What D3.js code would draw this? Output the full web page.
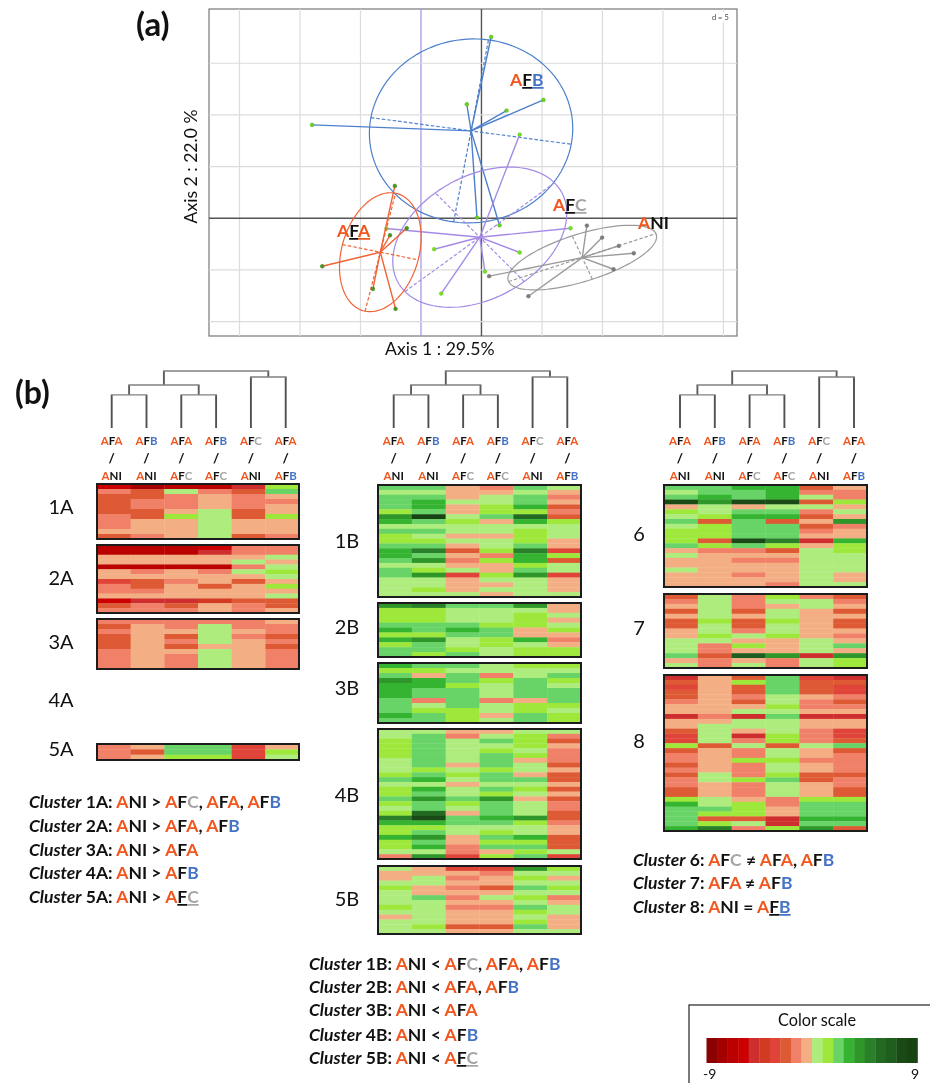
<!DOCTYPE html>
<html><head><meta charset="utf-8">
<script src="https://cdn.jsdelivr.net/npm/d3@7/dist/d3.min.js"></script>
<style>html,body{margin:0;padding:0;background:#fff;overflow:hidden}svg{display:block;filter:blur(.6px)}text{font-family:Lato,"Open Sans",sans-serif}</style>
</head><body><svg id="c" width="930" height="1083"></svg>
<script>
// ---------- data (a): PCA scores, in axis units
const afbCenter=[-0.86,8.45], afbAxes=[[8.28,-1.29],[1.44,8.81]];
const afbPoints=[[0.8,17.55],[-1.21,11.03],[2.07,10.42],[5.12,11.45],[-14,9.03],[-0.37,0.06],[1.49,-0.68]];
const afcCenter=[-0.14,-1.84], afcAxes=[[6.18,5.26],[-3.68,4.29]];
const afcPoints=[[3.16,8.1],[-7.85,-1],[7.36,-0.97],[-3.91,-3],[3.16,-3.32],[-3.33,-7.29],[0.29,-5.16]];
const afaCenter=[-8.36,-3.29], afaAxes=[[1.26,5.71],[3.13,-0.74]];
const afaPoints=[[-7.16,3.13],[-6.18,-0.97],[-7.56,-1.65],[-13.16,-4.65],[-8.97,-6.84],[-7.1,-8.77]];
const aniCenter=[8.33,-3.81], aniAxes=[[6.09,2.32],[-0.83,2.1]];
const aniPoints=[[8.71,-0.71],[9.97,-1.87],[11.35,-2.68],[12.59,-3.39],[10.92,-4.94],[3.88,-7.55],[0.63,-5.61]];
const gridX=[-20,-15,-10,-5,0,5,10,15,20], gridY=[-10,-5,0,5,10,15];
// ---------- data (b): heat maps, rows x 6 comparisons
const comparisonsTop=["AFA","AFB","AFA","AFB","AFC","AFA"], comparisonsBottom=["ANI","ANI","AFC","AFC","ANI","AFB"];
const scaleColors=["#8b0000","#a50000","#bb0000","#cc0000","#cf2e2e","#d23a22","#e04438","#de5a34","#f08068","#f4ae84","#aeec7e","#9ee83c","#68d468","#34b430","#2f962a","#2a8028","#226a22","#1f5e1e","#1a4a16","#184414"];
const h1A=[[-5.8,-7.5,-6.7,-6.7,-4.9,1.3],[-1.3,-2.2,.5,-1.3,-2.2,2.2],[-2.2,-2.2,-1.3,-.5,-1.3,-.5],[-2.2,-1.3,-1.3,-.5,-1.3,-1.3],[-2.2,-1.3,-1.3,-.5,-1.3,-.5],[-2.2,-2.2,-.5,.5,-2.2,-.5],[-1.3,-2.2,1.3,.5,-2.2,1.3],[-1.3,-.5,-.5,.5,-.5,-.5],[-1.3,-.5,-.5,.5,-.5,-.5],[-.5,-.5,-.5,.5,-.5,-.5],[-2.2,-1.3,-.5,.5,-2.2,-1.3]];
const h2A=[[-6.7,-6.7,-6.7,-5.8,-1.3,-1.3],[-6.7,-6.7,-6.7,-4.9,-1.3,-1.3],[-.5,-.5,-.5,-.5,-.5,.5],[-.5,-.5,-.5,-.5,.5,-.5],[-6.7,-6.7,-6.7,-6.7,-1.3,.5],[-.5,-1.3,-.5,-1.3,.5,1.3],[-.5,-.5,-.5,-.5,-.5,.5],[-3,-2.2,-1.3,-.5,-2.2,-.5],[-1.3,-2.2,-.5,-2.2,-.5,1.3],[-1.3,-1.3,-.5,-.5,-.5,-.5],[-.5,-.5,-.5,-.5,-.5,.5],[-5.8,-4.9,-4.9,-4,-2.2,-2.2],[-2.2,-1.3,-2.2,-.5,-1.3,-2.2],[-1.3,-1.3,-1.3,-.5,-1.3,-.5]];
const h3A=[[-1.3,-1.3,-1.3,-1.3,-1.3,-.5],[-2.2,-.5,-1.3,.5,-1.3,-1.3],[-1.3,-.5,-.5,.5,-.5,-1.3],[-2.2,-.5,-2.2,.5,-1.3,-2.2],[-2.2,-.5,-1.3,.5,-.5,-1.3],[-2.2,-.5,-2.2,-.5,-.5,-2.2],[-1.3,-.5,-.5,.5,-.5,-1.3],[-1.3,-.5,-1.3,.5,-.5,-1.3],[-1.3,-.5,-1.3,.5,-.5,-1.3],[-1.3,-.5,-1.3,.5,-.5,-1.3]];
const h5A=[[-1.3,-.5,2.2,2.2,-3,-.5],[-1.3,-2.2,2.2,2.2,-3,1.3],[-1.3,-.5,1.3,1.3,-3,.5]];
const h1B=[[2.2,2.2,-.5,-1.3,2.2,.5],[.5,.5,-.5,-.5,.5,-.5],[2.2,2.2,-.5,.5,2.2,-1.3],[2.2,3.1,.5,.5,2.2,-.5],[2.2,3.1,-.5,1.3,3.1,-2.2],[1.3,2.2,-.5,1.3,1.3,-1.3],[4,8.5,.5,2.2,5.8,-2.2],[3.1,2.2,1.3,-.5,3.1,1.3],[.5,.5,.5,.5,.5,.5],[2.2,2.2,.5,.5,1.3,.5],[1.3,.5,-.5,-.5,1.3,.5],[1.3,1.3,.5,.5,1.3,-.5],[2.2,2.2,-.5,.5,2.2,-.5],[3.1,5,-2.2,1.3,5,-3],[3.1,2.2,-.5,-1.3,3.1,1.3],[2.2,4,-1.3,1.3,3.1,-2.2],[.5,.5,-.5,-.5,1.3,.5],[2.2,1.3,.5,-.5,2.2,.5],[2.2,4,-3,1.3,4,-3],[.5,.5,-.5,.5,.5,-.5],[.5,.5,-.5,-.5,.5,-.5],[.5,1.3,-.5,.5,.5,-.5],[.5,.5,.5,-.5,.5,.5]];
const h2B=[[4,5,2.2,2.2,4,-.5],[1.3,1.3,.5,.5,.5,-.5],[1.3,1.3,.5,.5,1.3,.5],[1.3,1.3,.5,.5,1.3,-.5],[2.2,2.2,2.2,1.3,1.3,.5],[3.1,2.2,3.1,2.2,-.5,1.3],[1.3,1.3,2.2,2.2,-.5,-.5],[3.1,4,.5,1.3,3.1,-1.3],[1.3,2.2,.5,1.3,.5,-.5],[2.2,2.2,1.3,.5,1.3,1.3],[2.2,1.3,2.2,.5,1.3,1.3]];
const h3B=[[3.1,2.2,2.2,.5,1.3,1.3],[1.3,1.3,.5,.5,.5,.5],[2.2,-.5,2.2,-1.3,.5,2.2],[4,3.1,2.2,1.3,2.2,1.3],[3.1,3.1,1.3,.5,2.2,.5],[3.1,2.2,2.2,.5,2.2,2.2],[3.1,2.2,2.2,.5,2.2,2.2],[2.2,-1.3,2.2,-1.3,-.5,2.2],[2.2,.5,2.2,.5,1.3,1.3],[2.2,1.3,1.3,.5,1.3,.5],[3.1,2.2,1.3,-.5,2.2,1.3],[2.2,2.2,1.3,.5,2.2,1.3]];
const h4B=[[.5,.5,-.5,-.5,.5,.5],[.5,2.2,-1.3,.5,1.3,-1.3],[1.3,2.2,.5,2.2,1.3,-2.2],[1.3,2.2,.5,.5,1.3,-.5],[1.3,2.2,.5,1.3,.5,-1.3],[1.3,2.2,.5,2.2,1.3,-1.3],[.5,2.2,.5,2.2,-.5,-1.3],[.5,2.2,-.5,2.2,.5,-2.2],[.5,1.3,.5,1.3,.5,-.5],[1.3,2.2,1.3,2.2,-.5,-2.2],[2.2,3.1,.5,2.2,2.2,-2.2],[.5,.5,-.5,.5,.5,-.5],[1.3,3.1,.5,2.2,1.3,-2.2],[1.3,2.2,.5,1.3,.5,-.5],[2.2,4,2.2,4,-.5,-2.2],[1.3,2.2,1.3,2.2,.5,-1.3],[.5,2.2,.5,2.2,.5,-1.3],[1.3,5.8,-.5,2.2,.5,-2.2],[5,7.6,2.2,3.1,4,-2.2],[3.1,3.1,2.2,2.2,1.3,-1.3],[1.3,1.3,.5,.5,.5,-.5],[1.3,2.2,.5,1.3,.5,-.5],[3.1,4,-.5,2.2,3.1,-2.2],[1.3,2.2,-.5,1.3,1.3,-2.2],[1.3,3.1,-1.3,2.2,2.2,-2.2],[.5,.5,-1.3,-.5,1.3,.5],[-1.3,4,-3,1.3,2.2,-3]];
const h5B=[[.5,-.5,-3,-3,4,1.3],[-.5,-.5,-.5,-1.3,.5,.5],[-.5,.5,-1.3,-.5,1.3,-.5],[.5,.5,-.5,-.5,.5,.5],[1.3,-.5,-1.3,-2.2,2.2,1.3],[.5,-.5,-.5,-.5,.5,.5],[.5,2.2,-1.3,.5,1.3,-1.3],[.5,.5,-.5,-.5,.5,-.5],[1.3,.5,-1.3,-1.3,2.2,.5],[.5,.5,-.5,-.5,1.3,.5],[-.5,.5,-.5,-.5,.5,-.5],[.5,.5,-.5,-.5,1.3,-.5],[.5,1.3,-2.2,-2.2,2.2,-.5],[.5,.5,-.5,-.5,.5,.5]];
const h6=[[2.2,2.2,3.1,3.1,-2.2,-.5],[.5,2.2,2.2,3.1,-1.3,-1.3],[2.2,3.1,2.2,3.1,.5,-1.3],[7.6,4,7.6,7.6,-2.2,1.3],[-.5,.5,-.5,.5,.5,-.5],[1.3,.5,2.2,2.2,-1.3,.5],[.5,1.3,3.1,3.1,-2.2,-.5],[2.2,-2.2,2.2,-2.2,-.5,4],[.5,1.3,2.2,2.2,-2.2,-1.3],[1.3,1.3,2.2,2.2,-1.3,-.5],[1.3,1.3,2.2,2.2,-.5,-.5],[1.3,-2.2,7.6,5,-4.9,3.1],[2.2,1.3,2.2,1.3,-.5,1.3],[-.5,-1.3,-1.3,-2.2,.5,1.3],[.5,-.5,-.5,-.5,.5,.5],[-.5,-.5,-1.3,-1.3,.5,.5],[-.5,-.5,-.5,-.5,.5,.5],[.5,-.5,-.5,-.5,.5,.5],[-.5,-.5,-1.3,-.5,.5,-.5],[-.5,-.5,-.5,-.5,.5,-.5],[-.5,-.5,-.5,-1.3,.5,.5]];
const h7=[[-2.2,.5,-1.3,1.3,-1.3,-2.2],[-1.3,.5,-1.3,.5,.5,-1.3],[-.5,.5,-1.3,-.5,.5,-.5],[-2.2,.5,-2.2,.5,-.5,-2.2],[-.5,.5,-.5,.5,-.5,-.5],[-2.2,1.3,-2.2,1.3,-.5,-2.2],[-2.2,.5,-2.2,.5,-.5,-2.2],[-.5,.5,-1.3,.5,-.5,-.5],[-.5,1.3,.5,1.3,-.5,-1.3],[.5,.5,-.5,-.5,.5,-.5],[.5,-1.3,1.3,-.5,.5,2.2],[.5,-1.3,-.5,-.5,.5,-.5],[2.2,-2.2,6.7,4,-4.9,4],[-.5,-1.3,-.5,-1.3,.5,1.3],[.5,-1.3,.5,-1.3,.5,1.3]];
const h8=[[-4.9,-.5,-2.2,2.2,-3,-4.9],[-2.2,-.5,1.3,2.2,-2.2,-2.2],[-3,-.5,-2.2,2.2,-2.2,-3],[-2.2,-.5,-2.2,2.2,-2.2,-3],[-2.2,-.5,-1.3,.5,-.5,-1.3],[-1.3,-.5,-2.2,.5,-1.3,-2.2],[-.5,-.5,-.5,1.3,-1.3,-1.3],[-.5,-.5,.5,.5,-.5,-.5],[-4.9,-1.3,-4.9,2.2,-4.9,-4.9],[-.5,-.5,.5,.5,-.5,-.5],[-.5,.5,.5,.5,-.5,-.5],[-2.2,.5,-.5,.5,-1.3,-3],[-3,.5,-4.9,1.3,-1.3,-3],[-3,.5,-1.3,1.3,-1.3,-2.2],[1.3,-2.2,.5,-2.2,.5,2.2],[-2.2,-.5,-1.3,.5,-.5,-2.2],[-1.3,-.5,-1.3,.5,-.5,-1.3],[-1.3,-.5,1.3,1.3,-1.3,-1.3],[-2.2,-.5,-1.3,.5,-.5,-1.3],[-1.3,-.5,-1.3,.5,-.5,-1.3],[-2.2,.5,-1.3,1.3,-2.2,-2.2],[-1.3,.5,1.3,2.2,-2.2,-1.3],[-1.3,-.5,-1.3,.5,-.5,-1.3],[-2.2,-.5,-1.3,.5,-.5,-2.2],[-2.2,-.5,-1.3,.5,-.5,-2.2],[1.3,.5,-.5,-1.3,1.3,1.3],[3.1,.5,1.3,-1.3,2.2,2.2],[2.2,2.2,1.3,-.5,2.2,2.2],[2.2,1.3,1.3,-.5,2.2,2.2],[2.2,-2.2,-2.2,-4.9,3.1,3.1],[2.2,1.3,.5,-4.9,2.2,2.2],[3.1,5,-1.3,1.3,4,-2.2]];
const dendroTree={h:1,children:[{h:.754,children:[{h:.58,children:[{i:0,h:0},{i:1,h:0}]},{h:.58,children:[{i:2,h:0},{i:3,h:0}]}]},{h:.895,children:[{i:4,h:0},{i:5,h:0}]}]};
const clustersLeft=["Cluster 1A: ANI > AFC, AFA, AFB","Cluster 2A: ANI > AFA, AFB","Cluster 3A: ANI > AFA","Cluster 4A: ANI > AFB","Cluster 5A: ANI > AFC_"];
const clustersMid=["Cluster 1B: ANI < AFC, AFA, AFB","Cluster 2B: ANI < AFA, AFB","Cluster 3B: ANI < AFA","Cluster 4B: ANI < AFB","Cluster 5B: ANI < AFC_"];
const clustersRight=["Cluster 6: AFC ≠ AFA, AFB","Cluster 7: AFA ≠ AFB","Cluster 8: ANI = AFB_"];

// ---------- layout
const svg=d3.select("#c");
const ORANGE="#f0561d",BLUE="#4472c4",GREY="#a6a6a6",INK="#111";
const F={l:209,r:737,t:9,b:336};
const x=d3.scaleLinear().domain([-22.52,21.12]).range([F.l,F.r]);
const y=d3.scaleLinear().domain([-11.4,20.25]).range([F.b,F.t]);
const heat=d3.scaleQuantize().domain([-9,9]).range(scaleColors);

function title(t,xp,yp,fs,extra){const n=svg.append("text").attr("x",xp).attr("y",yp).attr("font-size",fs).attr("fill",INK).text(t);if(extra)extra(n);return n;}
title("(a)",136,36,33,n=>n.attr("font-weight",700));
title("(b)",15,404,32,n=>n.attr("font-weight",700));

// panel (a)
const a=svg.append("g");
a.append("rect").attr("x",F.l).attr("y",F.t).attr("width",F.r-F.l).attr("height",F.b-F.t).attr("fill","#fff").attr("stroke","#777").attr("stroke-width",1.2);
a.selectAll(".gx").data(gridX).join("line").attr("x1",d=>x(d)).attr("x2",d=>x(d)).attr("y1",F.t).attr("y2",F.b).attr("stroke",d=>d===0?"#555":d===-5?"#a88fe8":"#dcdcdc").attr("stroke-width",d=>d===0?1.4:1.2);
a.selectAll(".gy").data(gridY).join("line").attr("y1",d=>y(d)).attr("y2",d=>y(d)).attr("x1",F.l).attr("x2",F.r).attr("stroke",d=>d===0?"#555":"#dcdcdc").attr("stroke-width",d=>d===0?1.4:1.2);
a.append("rect").attr("x",710).attr("y",12).attr("width",22).attr("height",10).attr("fill","#fff");
a.append("text").attr("x",712).attr("y",20).attr("font-size",7.5).attr("fill","#444").text("d = 5");
const groups=[
 {c:afbCenter,ax:afbAxes,p:afbPoints,col:"#4d80cc",dot:"#66d81e",dc:"#3f9a12"},
 {c:afcCenter,ax:afcAxes,p:afcPoints,col:"#a58ae6",dot:"#74e21c",dc:"#58c010"},
 {c:afaCenter,ax:afaAxes,p:afaPoints,col:"#ef6336",dot:"#4c9a18",dc:"#2e6e10"},
 {c:aniCenter,ax:aniAxes,p:aniPoints,col:"#9b9b9b",dot:"#7c7c7c",dc:"#6a6a6a"}];
const ellipseLine=d3.line().x(d=>x(d[0])).y(d=>y(d[1])).curve(d3.curveLinearClosed);
groups.forEach(g=>{
 const pts=d3.range(0,360,3).map(t=>{const r=t*Math.PI/180,c=Math.cos(r),s=Math.sin(r);return [g.c[0]+g.ax[0][0]*c+g.ax[1][0]*s,g.c[1]+g.ax[0][1]*c+g.ax[1][1]*s];});
 a.append("path").attr("d",ellipseLine(pts)).attr("fill","none").attr("stroke",g.col).attr("stroke-width",1.2);
 g.ax.forEach(v=>a.append("line").attr("x1",x(g.c[0]-v[0])).attr("y1",y(g.c[1]-v[1])).attr("x2",x(g.c[0]+v[0])).attr("y2",y(g.c[1]+v[1])).attr("stroke",g.col).attr("stroke-width",1.2).attr("stroke-dasharray","3.5,2"));
 a.selectAll(null).data(g.p).join("line").attr("x1",x(g.c[0])).attr("y1",y(g.c[1])).attr("x2",d=>x(d[0])).attr("y2",d=>y(d[1])).attr("stroke",g.col).attr("stroke-width",1.4);
 a.selectAll(null).data(g.p).join("circle").attr("cx",d=>x(d[0])).attr("cy",d=>y(d[1])).attr("r",1.9).attr("fill",g.dot).attr("stroke",g.dc).attr("stroke-width",.4);
});
// coloured text helper: AFA / AFB / AFC / ANI terms, trailing _ means F+last letter underlined
function termParts(tok){
 const ul=tok.endsWith("_"),t=tok.replace("_","");
 const last=t[2]==="A"?ORANGE:t[2]==="B"?BLUE:t[2]==="C"?GREY:INK;
 if(t==="ANI")return [[ "A",ORANGE,0],["NI",INK,0]];
 return [["A",ORANGE,0],["F",INK,ul?1:0],[t[2],last,ul?1:0]];
}
function addParts(sel,parts){parts.forEach(p=>{const s=sel.append("tspan").attr("fill",p[1]).text(p[0]);if(p[2])s.attr("text-decoration","underline");if(p[3])s.attr("font-style","italic");});}
[["AFB_",510,86],["AFC_",553,211],["ANI",638,229],["AFA_",337,237]].forEach(d=>{
 const n=a.append("text").attr("x",d[1]).attr("y",d[2]).attr("font-size",17.5).attr("font-weight",700);addParts(n,termParts(d[0]));
});
title("Axis 1 : 29.5%",385,355,17.6);
svg.append("text").attr("transform","translate(197,166.5) rotate(-90)").attr("text-anchor","middle").attr("font-size",17.6).attr("fill",INK).text("Axis 2 : 22.0 %");

// panel (b)
const panels=[
 {d:h1A,x0:97,x1:299,y0:484,y1:539,n:"1A",lx:61,ly:514},{d:h2A,x0:97,x1:299,y0:545,y1:613,n:"2A",lx:61,ly:585},{d:h3A,x0:97,x1:299,y0:619,y1:669,n:"3A",lx:61,ly:649},{d:h5A,x0:97,x1:299,y0:744,y1:760,n:"5A",lx:61,ly:756},
 {d:h1B,x0:378,x1:581,y0:485,y1:597,n:"1B",lx:347,ly:548},{d:h2B,x0:378,x1:581,y0:603,y1:657,n:"2B",lx:347,ly:634},{d:h3B,x0:378,x1:581,y0:663,y1:723,n:"3B",lx:347,ly:695},{d:h4B,x0:378,x1:581,y0:729,y1:859,n:"4B",lx:347,ly:802},{d:h5B,x0:378,x1:581,y0:866,y1:934,n:"5B",lx:347,ly:906},
 {d:h6,x0:664,x1:867,y0:485,y1:587,n:"6",lx:639,ly:541},{d:h7,x0:664,x1:867,y0:594,y1:668,n:"7",lx:639,ly:635},{d:h8,x0:664,x1:867,y0:675,y1:831,n:"8",lx:639,ly:748}];
const b=svg.append("g");
panels.forEach(p=>{
 const cx=d3.scaleBand().domain(d3.range(6)).range([p.x0,p.x1]);
 const ry=d3.scaleBand().domain(d3.range(p.d.length)).range([p.y0,p.y1]);
 const row=b.append("g").selectAll("g").data(p.d).join("g").attr("transform",(d,i)=>`translate(0,${ry(i)})`);
 row.selectAll("rect").data(d=>d).join("rect").attr("x",(d,i)=>cx(i)).attr("width",cx.bandwidth()+.3).attr("height",ry.bandwidth()+.3).attr("fill",d=>heat(d));
 b.append("rect").attr("x",p.x0).attr("y",p.y0).attr("width",p.x1-p.x0).attr("height",p.y1-p.y0).attr("fill","none").attr("stroke","#1c1c1c").attr("stroke-width",2);
 b.append("text").attr("x",p.lx).attr("y",p.ly).attr("text-anchor","middle").attr("font-size",20).attr("fill",INK).text(p.n);
});
title("4A",61,707,20,n=>n.attr("text-anchor","middle"));

// dendrograms and column labels
[[111.7,285.7],[393.7,567.3],[680,854]].forEach(rng=>{
 const lx=d3.scalePoint().domain(d3.range(6)).range(rng);
 const hy=d3.scaleLinear().domain([0,1]).range([428,371]);
 const root=d3.hierarchy(dendroTree);
 root.eachAfter(n=>{n.px=n.children?d3.mean(n.children,c=>c.px):lx(n.data.i);});
 const g=svg.append("g").attr("fill","none");
 root.links().forEach(l=>{
  const leaf=!l.target.children;
  g.append("line").attr("x1",l.target.px).attr("x2",l.target.px).attr("y1",hy(l.source.data.h)).attr("y2",hy(l.target.data.h)).attr("stroke",leaf?"#505050":"#5c5c5c").attr("stroke-width",1.9);
 });
 root.descendants().filter(n=>n.children).forEach(n=>{
  g.append("line").attr("x1",n.children[0].px-.9).attr("x2",n.children[1].px+.9).attr("y1",hy(n.data.h)).attr("y2",hy(n.data.h)).attr("stroke","#808080").attr("stroke-width",1.3);
 });
 comparisonsTop.forEach((t,i)=>{
  const n=svg.append("text").attr("x",lx(i)).attr("y",445).attr("text-anchor","middle").attr("font-size",11.5).attr("font-weight",700);addParts(n,termParts(t));
  svg.append("text").attr("x",lx(i)).attr("y",463).attr("text-anchor","middle").attr("font-size",13.5).attr("font-weight",700).attr("fill",INK).text("/");
  const m=svg.append("text").attr("x",lx(i)).attr("y",480).attr("text-anchor","middle").attr("font-size",11.5).attr("font-weight",700);addParts(m,termParts(comparisonsBottom[i]));
 });
});

// cluster captions
function caption(lines,x0,ys){
 lines.forEach((ln,i)=>{
  const n=svg.append("text").attr("x",x0).attr("y",ys[i]).attr("font-size",17.5).attr("font-weight",700);
  const m=ln.match(/^(Cluster)( .*?:)(.*)$/);
  addParts(n,[[m[1],INK,0,1],[m[2],INK,0]]);
  m[3].split(/(AFA_?|AFB_?|AFC_?|ANI)/).forEach(s=>{if(!s)return;if(/^A(F|NI)/.test(s))addParts(n,termParts(s));else addParts(n,[[s,INK,0]]);});
 });
}
caption(clustersLeft,29,[808,832,856,879,903]);
caption(clustersMid,309,[970,993,1016,1041,1064]);
caption(clustersRight,633,[866,889,913]);

// colour scale
const lg=svg.append("g");
lg.append("rect").attr("x",689).attr("y",1005).attr("width",260).attr("height",100).attr("fill","#fff").attr("stroke","#222").attr("stroke-width",1.2);
lg.append("text").attr("x",817).attr("y",1026).attr("text-anchor","middle").attr("font-size",16.3).attr("fill",INK).text("Color scale");
const lb=d3.scaleBand().domain(scaleColors).range([706.5,917.5]);
lg.selectAll(".b").data(scaleColors).join("rect").attr("x",d=>lb(d)).attr("y",1038).attr("width",lb.bandwidth()+.3).attr("height",25).attr("fill",d=>d);
lg.append("text").attr("x",703).attr("y",1079).attr("font-size",14).attr("fill",INK).text("-9");
lg.append("text").attr("x",911).attr("y",1079).attr("font-size",14).attr("fill",INK).text("9");
</script></body></html>
